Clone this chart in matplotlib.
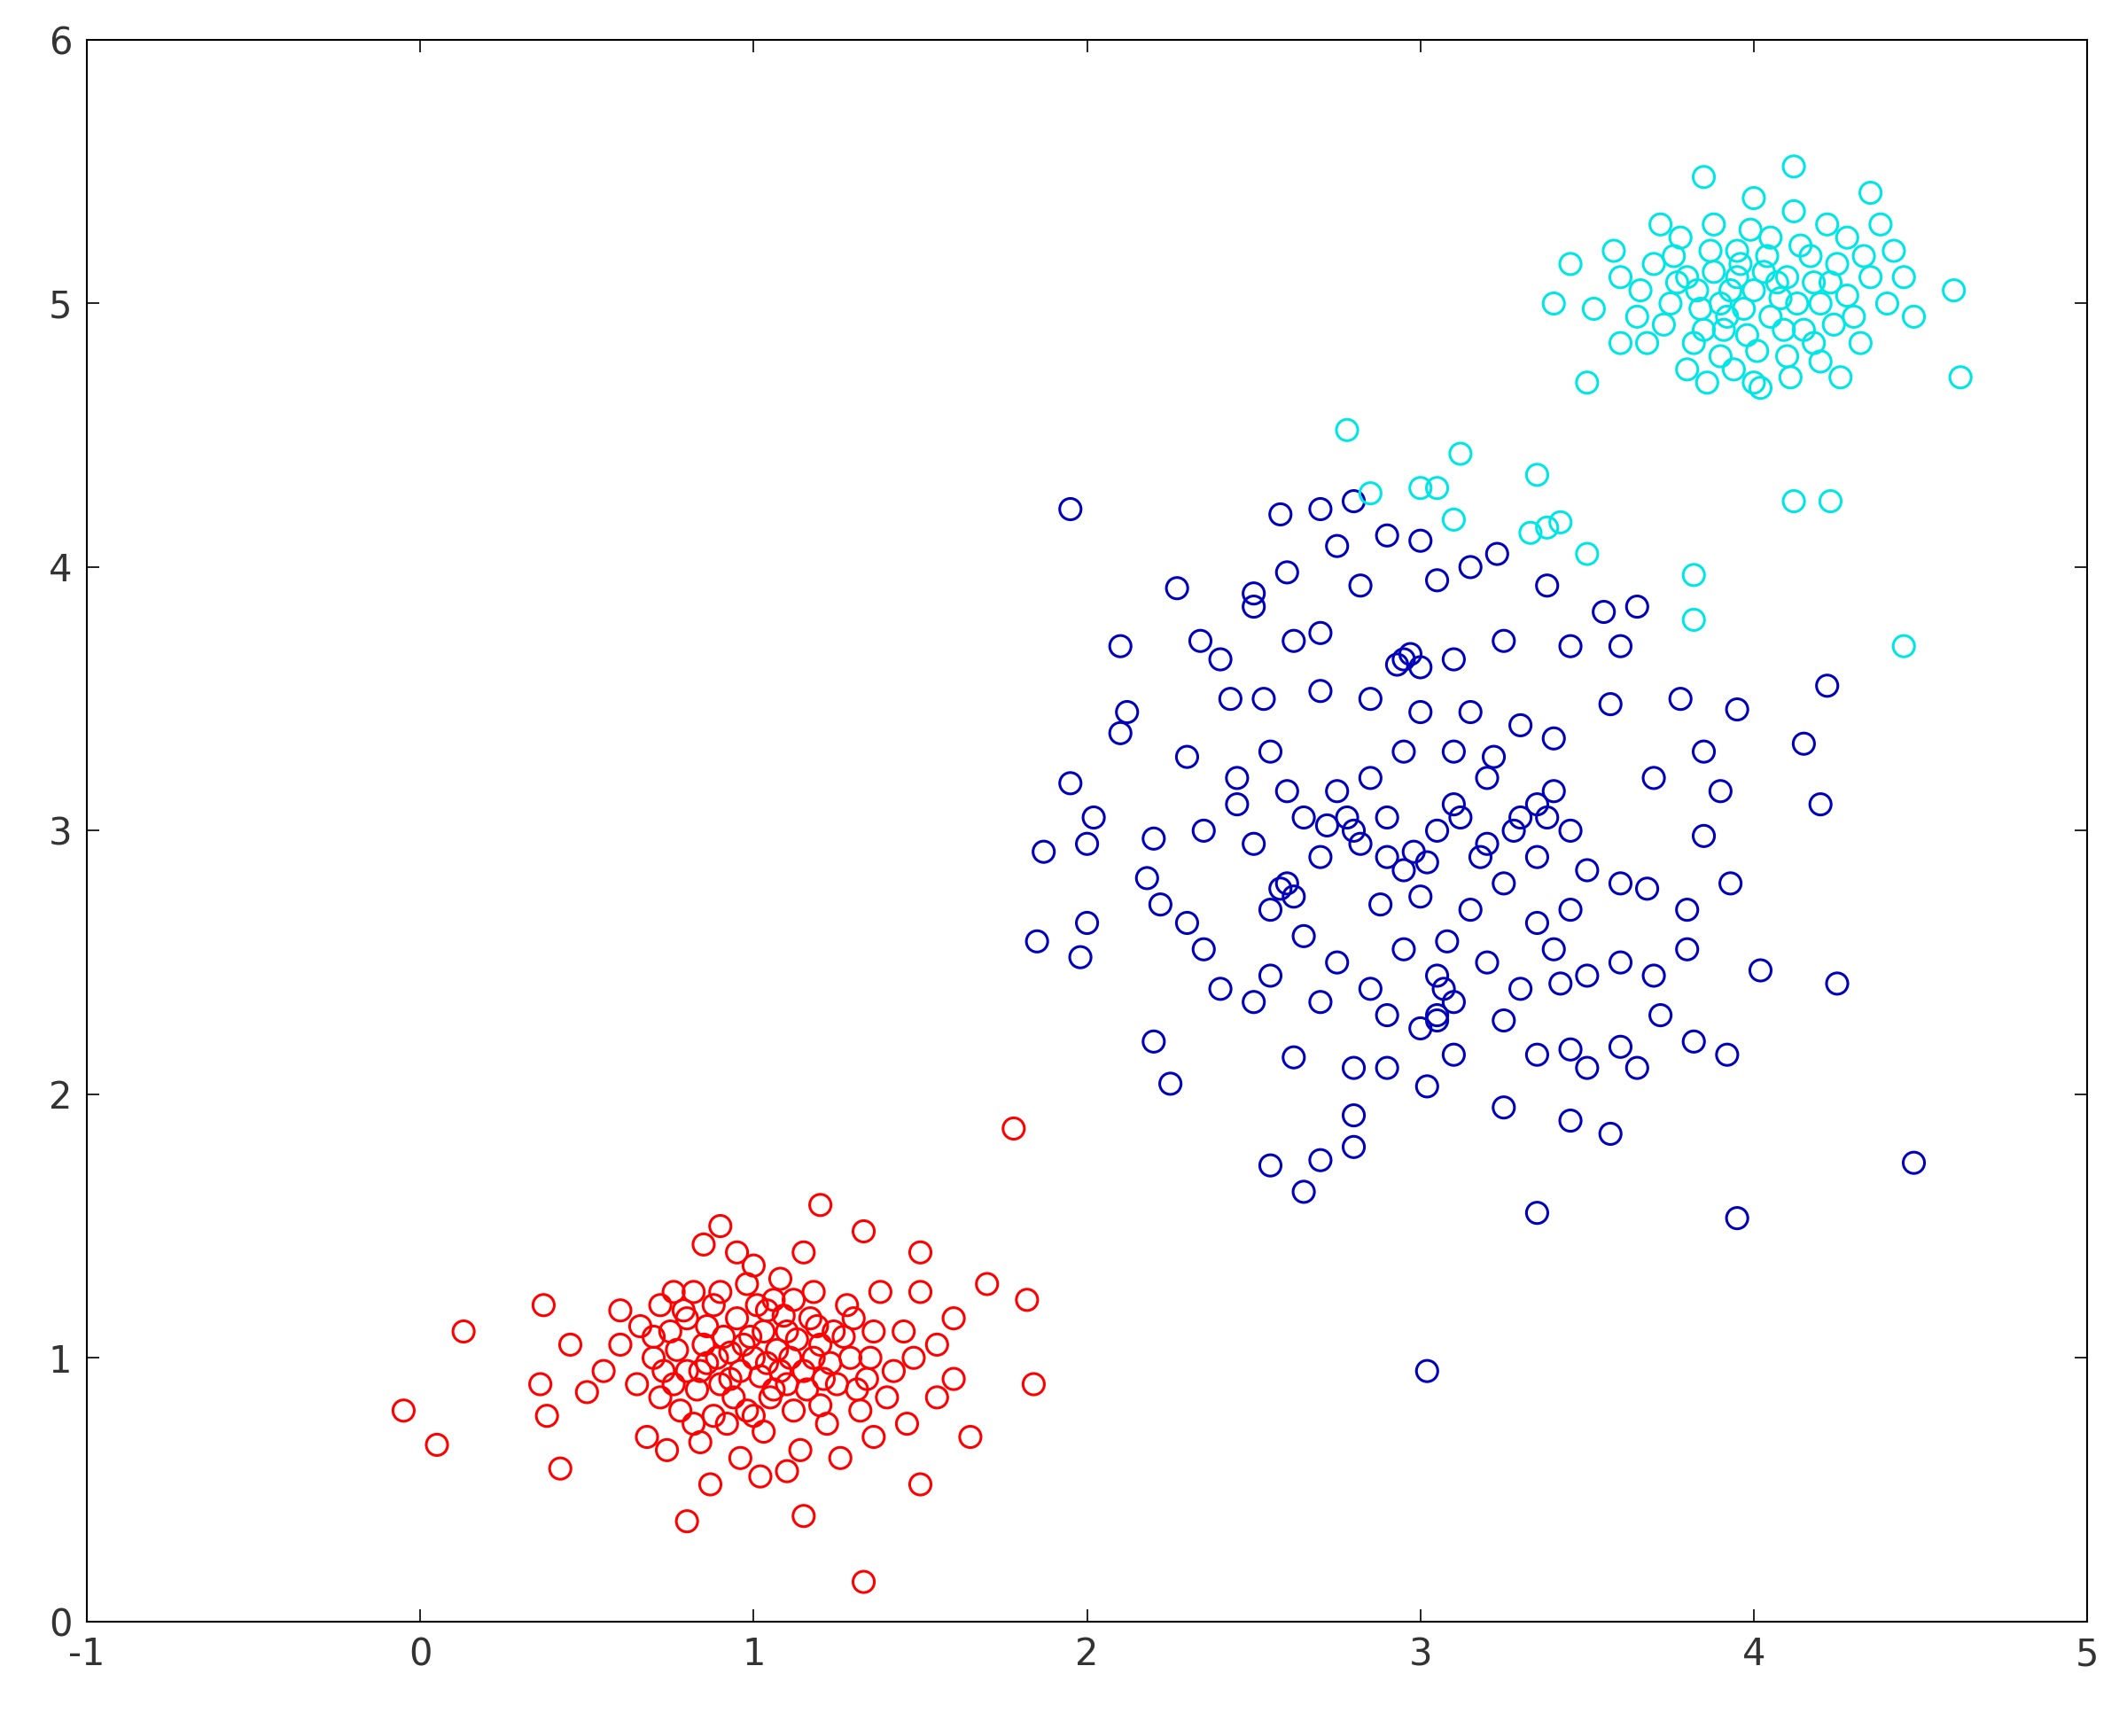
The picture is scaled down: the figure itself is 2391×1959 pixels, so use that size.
import numpy as np
import matplotlib
matplotlib.use("Agg")
import matplotlib.pyplot as plt

plt.rcParams['axes.unicode_minus'] = False

# cluster points (x, y)
red_pts = [
    (-0.05, 0.8), (0.05, 0.67), (0.13, 1.1), (0.37, 1.2), (0.36, 0.9), (0.38, 0.78), (0.42, 0.58),
    (0.45, 1.05), (0.5, 0.87), (0.6, 1.18), (1.78, 1.87), (1.82, 1.22), (1.84, 0.9), (1.65, 0.7),
    (1.7, 1.28), (1.33, 0.15), (1.15, 0.4), (0.8, 0.38), (0.87, 0.52), (1.02, 0.55), (1.1, 0.57),
    (1.5, 0.52), (1.2, 1.58), (1.33, 1.48), (1.5, 1.4), (0.9, 1.5), (0.85, 1.43),
    (0.7, 1.0), (0.75, 1.1), (0.8, 0.95), (0.85, 1.05), (0.9, 0.9), (0.95, 1.15), (1.0, 1.0),
    (1.05, 0.85), (1.1, 1.1), (1.15, 0.95), (1.2, 1.05), (1.25, 0.9), (1.3, 1.15), (1.35, 1.0),
    (1.4, 0.85), (1.45, 1.1), (0.65, 0.9), (0.72, 1.2), (0.78, 0.8), (0.82, 1.25), (0.88, 1.2),
    (0.92, 0.75), (0.98, 1.28), (1.03, 0.72), (1.08, 1.3), (1.12, 0.8), (1.18, 1.25), (1.22, 0.75),
    (1.28, 1.2), (1.32, 0.8), (1.38, 1.25), (1.42, 0.95), (1.48, 1.0), (1.55, 1.05), (1.55, 0.85),
    (1.6, 1.15), (0.6, 1.05), (0.55, 0.95), (0.68, 0.7), (0.74, 0.65), (0.84, 0.68), (0.96, 0.62),
    (1.14, 0.65), (1.26, 0.62), (1.36, 0.7), (1.46, 0.75), (0.86, 0.98), (0.93, 1.02), (1.02, 0.93),
    (1.07, 1.03), (0.8, 1.15), (1.17, 1.15), (1.23, 0.98), (0.76, 0.9), (0.94, 0.85), (1.04, 1.18),
    (1.1, 0.9), (1.0, 1.35), (1.15, 1.4), (0.95, 1.4), (1.6, 0.92), (1.5, 1.25),
    (0.72, 0.85), (0.88, 0.78), (1.06, 1.22), (1.27, 1.08), (0.66, 1.12), (1.34, 0.92), (0.98, 0.8),
    (0.73, 0.95), (0.77, 1.03), (0.79, 1.18), (0.83, 0.88), (0.86, 1.12), (0.89, 1.0), (0.91, 1.08),
    (0.96, 0.95), (0.99, 1.08), (1.01, 1.2), (1.04, 0.98), (1.06, 0.88), (1.09, 1.16), (1.11, 1.0),
    (1.13, 1.07), (1.16, 0.88), (1.19, 1.12), (1.21, 0.92), (1.24, 1.1), (1.29, 1.0), (1.31, 0.88),
    (0.7, 1.08), (0.82, 0.75), (0.9, 1.25), (1.0, 0.78), (1.12, 1.22), (1.2, 0.82), (1.36, 1.1),
    (0.76, 1.25), (0.84, 0.95), (0.97, 1.05), (1.08, 0.95), (1.18, 1.0), (0.93, 0.92), (1.03, 1.1),
]

blue_pts = [
    (1.95, 4.22), (2.58, 4.2), (2.7, 4.22), (2.8, 4.25), (2.75, 4.08), (2.9, 4.12), (3.0, 4.1),
    (3.05, 3.95), (3.15, 4.0), (3.23, 4.05), (2.27, 3.92), (2.5, 3.85), (2.5, 3.9), (2.6, 3.98),
    (2.82, 3.93), (3.38, 3.93), (3.55, 3.83), (2.1, 3.7), (2.34, 3.72), (2.4, 3.65), (2.62, 3.72),
    (2.7, 3.75), (2.95, 3.65), (3.0, 3.62), (3.1, 3.65), (3.25, 3.72), (3.45, 3.7), (3.6, 3.7),
    (3.65, 3.85), (2.12, 3.45), (2.1, 3.37), (2.43, 3.5), (2.53, 3.5), (2.7, 3.53), (2.85, 3.5),
    (3.0, 3.45), (3.15, 3.45), (3.3, 3.4), (3.4, 3.35), (3.57, 3.48), (3.78, 3.5), (3.95, 3.46),
    (4.22, 3.55), (4.15, 3.33), (4.2, 3.1), (1.95, 3.18), (2.02, 3.05), (2.0, 2.95), (1.87, 2.92),
    (1.85, 2.58), (1.98, 2.52), (2.0, 2.65), (2.18, 2.82), (2.22, 2.72), (2.2, 2.97), (2.3, 3.28),
    (2.35, 3.0), (2.45, 3.2), (2.55, 3.3), (2.65, 3.05), (2.75, 3.15), (2.8, 3.0), (2.9, 2.9),
    (2.95, 2.85), (3.05, 3.0), (3.1, 3.1), (3.2, 2.95), (3.3, 3.05), (3.35, 2.9), (3.45, 3.0),
    (3.5, 2.85), (3.6, 2.8), (3.7, 3.2), (3.85, 3.3), (3.9, 3.15), (3.85, 2.98), (3.68, 2.78),
    (3.8, 2.7), (3.93, 2.8), (4.02, 2.47), (4.25, 2.42), (2.3, 2.65), (2.35, 2.55), (2.4, 2.4),
    (2.55, 2.45), (2.55, 2.7), (2.65, 2.6), (2.75, 2.5), (2.85, 2.4), (2.95, 2.55), (3.05, 2.45),
    (3.1, 2.35), (3.2, 2.5), (3.3, 2.4), (3.4, 2.55), (3.5, 2.45), (3.6, 2.5), (3.7, 2.45),
    (3.8, 2.55), (3.72, 2.3), (3.6, 2.18), (3.5, 2.1), (3.45, 2.17), (3.65, 2.1), (3.82, 2.2),
    (3.92, 2.15), (2.2, 2.2), (2.25, 2.04), (2.62, 2.14), (2.8, 2.1), (2.9, 2.1), (3.02, 2.03),
    (3.1, 2.15), (3.25, 2.28), (3.35, 2.15), (3.25, 1.95), (3.45, 1.9), (3.57, 1.85), (2.8, 1.92),
    (2.8, 1.8), (2.55, 1.73), (2.7, 1.75), (2.65, 1.63), (3.35, 1.55), (3.95, 1.53), (4.48, 1.74),
    (3.02, 0.95), (2.9, 2.3), (3.0, 2.25), (3.05, 2.3), (2.7, 2.35), (2.5, 2.35), (2.95, 3.3),
    (3.1, 3.3), (3.2, 3.2), (2.85, 3.2), (2.6, 3.15), (2.45, 3.1), (2.9, 3.05), (3.0, 2.75),
    (3.15, 2.7), (3.25, 2.8), (2.7, 2.9), (2.6, 2.8), (2.5, 2.95), (3.4, 3.15), (3.35, 2.65),
    (3.45, 2.7), (2.97, 3.67), (2.93, 3.63), (3.38, 3.05), (3.42, 2.42), (3.08, 2.58), (2.88, 2.72),
    (2.78, 3.05), (2.82, 2.95), (2.98, 2.92), (3.02, 2.88), (3.12, 3.05), (3.18, 2.9), (3.28, 3.0),
    (3.35, 3.1), (2.58, 2.78), (2.62, 2.75), (3.05, 2.28), (3.07, 2.4), (2.72, 3.02), (3.22, 3.28),
]

cyan_pts = [
    (2.78, 4.52), (2.85, 4.28), (3.0, 4.3), (3.05, 4.3), (3.12, 4.43), (3.1, 4.18), (3.35, 4.35),
    (3.38, 4.15), (3.42, 4.17), (3.5, 4.05), (3.33, 4.13), (3.82, 3.97), (3.82, 3.8), (4.12, 4.25),
    (4.23, 4.25), (4.45, 3.7), (4.6, 5.05), (4.62, 4.72), (3.5, 4.7), (3.45, 5.15), (3.4, 5.0),
    (3.52, 4.98), (3.6, 4.85), (3.85, 5.48), (4.12, 5.52), (4.35, 5.42), (4.42, 5.2),
    (4.0, 5.05), (3.9, 5.0), (4.1, 5.1), (3.8, 5.1), (4.2, 5.0), (3.85, 4.9), (4.15, 4.9),
    (3.95, 5.2), (4.05, 5.25), (3.75, 5.0), (4.25, 5.15), (4.3, 4.95), (3.7, 5.15), (3.9, 4.8),
    (4.1, 4.8), (4.0, 4.7), (3.8, 4.75), (4.2, 4.78), (4.35, 5.1), (3.65, 4.95), (4.05, 4.95),
    (3.95, 5.1), (3.88, 5.3), (4.12, 5.35), (4.22, 5.3), (3.78, 5.25), (4.4, 5.0), (4.45, 5.1),
    (3.6, 5.1), (3.68, 4.85), (4.32, 4.85), (4.0, 5.4), (3.92, 4.95), (4.08, 5.02), (3.83, 5.05),
    (4.18, 5.08), (4.28, 5.25), (3.72, 5.3), (4.38, 5.3), (3.98, 4.88), (4.02, 4.68), (3.86, 4.7),
    (4.26, 4.72), (3.58, 5.2), (4.48, 4.95),
    (3.93, 5.05), (3.97, 4.98), (4.03, 5.12), (4.07, 5.08), (3.88, 5.12), (4.13, 5.0), (3.84, 4.98),
    (4.17, 5.18), (3.91, 4.9), (4.09, 4.9), (3.96, 5.15), (4.04, 5.18), (3.77, 5.08), (4.23, 5.08),
    (3.82, 4.85), (4.18, 4.85), (3.73, 4.92), (4.28, 5.03), (3.99, 5.28), (3.87, 5.2), (4.14, 5.22),
    (4.01, 4.82), (3.94, 4.75), (4.11, 4.72), (4.33, 5.18), (3.66, 5.05), (3.76, 5.18), (4.24, 4.92),
]

series = [(red_pts, '#ff0000'), (blue_pts, '#0000bb'), (cyan_pts, '#00e6e6')]

fig = plt.figure(figsize=(23.91, 19.59), dpi=100)
ax = fig.add_axes([0.041, 0.066, 0.944, 0.911])

for pts, col in series:
    arr = np.array(pts)
    ax.scatter(arr[:, 0], arr[:, 1], s=300, facecolors='none', edgecolors=col, linewidths=2.2)

ax.set_xlim(-1, 5)
ax.set_ylim(0, 6)
ax.set_xticks(range(-1, 6))
ax.set_yticks(range(0, 7))
ax.tick_params(direction='in', top=True, right=True, length=10, width=1.2,
               labelsize=30, labelcolor='#333333', pad=12)
for sp in ax.spines.values():
    sp.set_linewidth(1.5)

fig.savefig('out.png', dpi=100)
